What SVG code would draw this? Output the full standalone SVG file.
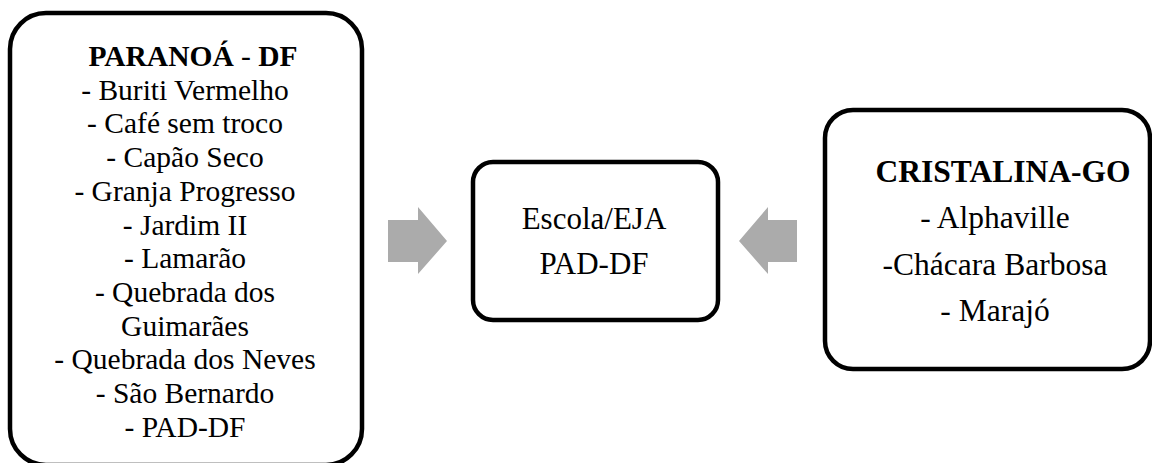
<svg xmlns="http://www.w3.org/2000/svg" width="1152" height="463" viewBox="0 0 1152 463">
<style>
.box{fill:#fff;stroke:#000;stroke-width:4.5}
.t{font-family:"Liberation Serif","Times New Roman",serif;fill:#000;text-anchor:middle}
.b{font-weight:bold}
.arr{fill:#ababab}
</style>
<rect width="1152" height="463" fill="#fff"/>
<g id="connectors">
<polygon class="arr" points="388,220 418,220 418,207 447,241 418,274 418,262 388,262"/>
<polygon class="arr" points="797,220 768,220 768,207 739,241 768,274 768,262 797,262"/>
</g>
<g id="paranoa">
<rect class="box" x="10" y="13" width="352" height="452" rx="36"/>
<g class="t" font-size="29.5">
<text x="193" y="66"><tspan class="b">PARANOÁ</tspan> - <tspan class="b">DF</tspan></text>
<text x="185" y="99.7">- Buriti Vermelho</text>
<text x="185" y="133.4">- Café sem troco</text>
<text x="185" y="167.1">- Capão Seco</text>
<text x="185" y="200.8">- Granja Progresso</text>
<text x="185" y="234.5">- Jardim II</text>
<text x="185" y="268.2">- Lamarão</text>
<text x="185" y="301.9">- Quebrada dos</text>
<text x="185" y="335.6">Guimarães</text>
<text x="185" y="369.3">- Quebrada dos Neves</text>
<text x="185" y="403">- São Bernardo</text>
<text x="185" y="436.7">- PAD-DF</text>
</g>
</g>
<g id="escola">
<rect class="box" x="473" y="162" width="245" height="158" rx="20"/>
<g class="t" font-size="31">
<text x="594" y="229">Escola/EJA</text>
<text x="594" y="274">PAD-DF</text>
</g>
</g>
<g id="cristalina">
<rect class="box" x="825" y="110" width="325" height="259" rx="28"/>
<g class="t" font-size="31.5">
<text class="b" x="1003" y="182">CRISTALINA-GO</text>
<text x="995" y="228">- Alphaville</text>
<text x="995" y="275">-Chácara Barbosa</text>
<text x="995" y="321">- Marajó</text>
</g>
</g>
</svg>
